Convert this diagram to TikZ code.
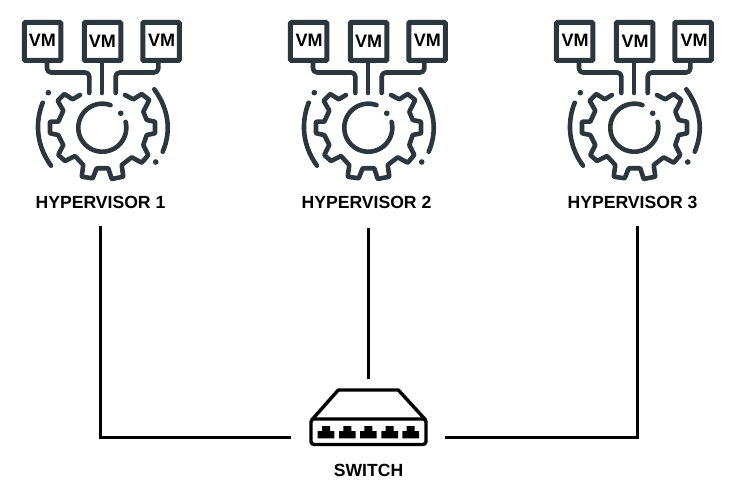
\documentclass[tikz,border=0pt]{standalone}
\usepackage{fontspec}
\setmainfont{Liberation Sans}
\definecolor{icon}{HTML}{2B363D}
\tikzset{
  vmbox/.style={draw=icon,line width=5pt,rounded corners=1pt,minimum width=36.5pt,minimum height=38pt,inner sep=0pt,outer sep=0pt},
  vmtext/.style={font=\fontsize{18}{20}\selectfont\bfseries,text=black,inner sep=0pt},
  iconline/.style={draw=icon,line width=4.6pt,line cap=round,line join=round},
  label/.style={font=\fontsize{17.6}{20}\selectfont\bfseries,text=black,inner sep=0pt},
  wire/.style={draw=black,line width=3pt,line join=miter},
  swline/.style={draw=black,line width=3.4pt,line join=round},
}
\newcommand{\hypicon}[5]{%
  % #1 prefix, #2 x offset, #3/#4/#5 text x offsets relative to the box column
  \begin{scope}[shift={(#2,0)}]
    \node[vmbox] (#1a) at (42.7,41.5) {};
    \node[vmbox] (#1b) at (102.5,41.5) {};
    \node[vmbox] (#1c) at (161,41.5) {};
    \node[vmtext] (#1ta) at (#3,40.7) {VM};
    \node[vmtext] (#1tb) at (#4,41) {VM};
    \node[vmtext] (#1tc) at (#5,40.7) {VM};
    \coordinate (#1ga) at (89.3,93);
    \coordinate (#1gb) at (102,93);
    \coordinate (#1gc) at (115.7,93);
    \draw[iconline,rounded corners=4pt] ([xshift=4.3pt]#1a.south) -- ++(0,12) -| (#1ga);
    \draw[iconline] ([xshift=-0.5pt]#1b.south) -- (#1gb);
    \draw[iconline,rounded corners=4pt] ([xshift=-2.7pt]#1c.south) -- ++(0,12) -| (#1gc);
    % gear
    \draw[iconline,rounded corners=0.6pt] (80,95) -- (72.7,99.3) -- (64.3,94) -- (57.7,100.7) -- (63.3,110.7) -- (58.3,121.7) -- (50,121.7) -- (50,133.3) -- (58.3,135) -- (63.3,145) -- (58.3,155) -- (65,161) -- (75,156) -- (83.3,165) -- (81.7,176.7) -- (92.7,178.3) -- (96.7,168.3) -- (108.3,168.3) -- (111.7,179) -- (123.3,176.7) -- (121.7,165) -- (131.7,157.3) -- (141.7,162.7) -- (148.3,155) -- (143.3,145) -- (146.7,135) -- (155,133.3) -- (155,121.7) -- (146.7,120) -- (143.3,111.7) -- (149.3,100) -- (141.7,94) -- (133.3,99.3) -- (125,95);
    % inner ring
    \draw[iconline] plot[domain=-70:-374,samples=60,smooth] ({102.3+24*cos(\x)},{127.7+24*sin(\x)});
    % side arcs and dots
    \draw[iconline] (42.7,102.7) .. controls (35,122) and (36,145) .. (51,165.7);
    \draw[iconline] (154.3,89.3) .. controls (168,108) and (172,130) .. (162.7,151.7);
    \fill[icon] (120.7,113.3) circle[radius=2.8pt];
    \fill[icon] (48.3,92.7) circle[radius=2.8pt];
    \fill[icon] (155.7,162) circle[radius=2.8pt];
  \end{scope}
}
\begin{document}
\begin{tikzpicture}[x=1pt,y=-1pt]
  \useasboundingbox (0,0) rectangle (737,489);
  \hypicon{p}{0}{42.3}{102.3}{161.7}
  \hypicon{q}{266}{43}{102.7}{161.3}
  \hypicon{r}{532}{43}{103}{162}
  \node[label] (h1) at (100.5,202) {HYPERVISOR 1};
  \node[label] (h2) at (366.5,202) {HYPERVISOR 2};
  \node[label] (h3) at (632.5,202) {HYPERVISOR 3};
  \node[label] (swl) at (368.5,470) {SWITCH};
  % switch
  \node[inner sep=0pt,minimum width=115pt,minimum height=56pt] (sw) at (368.3,417.5) {};
  \draw[swline] (311.7,420) -- (338.3,390) -- (398.3,390) -- (425.7,420);
  \draw[swline,rounded corners=3pt] (311,419) rectangle (426,444.5);
  \foreach \px in {326,347.3,368.3,389.7,410.7}{
    \fill[black] (\px-8.3,438.3) -- (\px-8.3,431) -- (\px-4,431) -- (\px-4,426) -- (\px+4,426) -- (\px+4,431) -- (\px+8.3,431) -- (\px+8.3,438.3) -- cycle;
  }
  % connectors
  \coordinate (e1) at (100.7,226);
  \coordinate (e2) at (368,228);
  \coordinate (e3) at (637,226);
  \coordinate (sl) at (291,437.5);
  \coordinate (st) at (368,379);
  \coordinate (sr) at (445,437.5);
  \draw[wire] (e1) |- (sl);
  \draw[wire] (e2) -- (st);
  \draw[wire] (e3) |- (sr);
\end{tikzpicture}
\end{document}
